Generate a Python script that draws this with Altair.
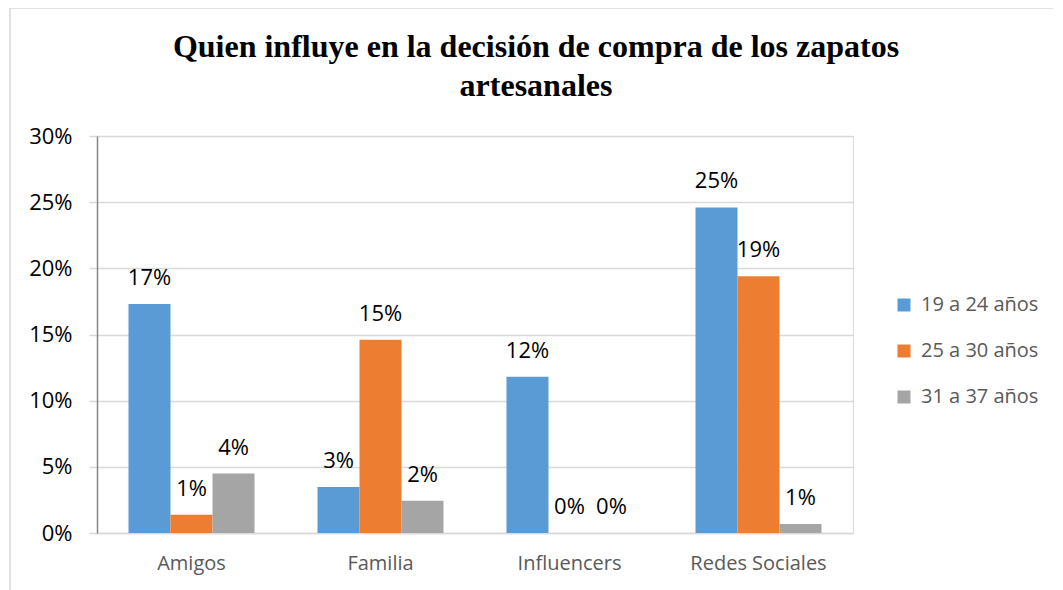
import altair as alt
import pandas as pd

categories = ["Amigos", "Familia", "Influencers", "Redes Sociales"]
series = ["19 a 24 años", "25 a 30 años", "31 a 37 años"]
values_19_24 = [0.173, 0.0348, 0.118, 0.246]
values_25_30 = [0.0138, 0.146, 0.0, 0.194]
values_31_37 = [0.0449, 0.0244, 0.0, 0.0068]
colors = ["#5B9BD5", "#ED7D31", "#A5A5A5"]
y_ticks = [0, 0.05, 0.10, 0.15, 0.20, 0.25, 0.30]

rows = []
for s, vals in zip(series, [values_19_24, values_25_30, values_31_37]):
    for c, v in zip(categories, vals):
        rows.append({"categoria": c, "grupo": s, "valor": v})
df = pd.DataFrame(rows)

x_enc = alt.X("categoria:N", sort=categories, title=None,
              scale=alt.Scale(paddingInner=0.3333, paddingOuter=0.1667),
              axis=alt.Axis(labelAngle=0, labelFont="Open Sans", labelFontSize=20,
                            labelColor="#595959", labelPadding=20, ticks=False,
                            domainColor="#D9D9D9", domainWidth=1.5, grid=False))
xoff = alt.XOffset("grupo:N", sort=series, scale=alt.Scale(paddingInner=0, paddingOuter=0))
y_enc = alt.Y("valor:Q", title=None,
              scale=alt.Scale(domain=[0, 0.3], nice=False),
              axis=alt.Axis(values=y_ticks, format=".0%", labelFont="Open Sans",
                            labelFontSize=22, labelColor="#000000", labelPadding=17,
                            tickSize=8, tickColor="#D9D9D9", tickWidth=1.5,
                            domainColor="#868686", domainWidth=1.5,
                            gridColor="#D9D9D9", gridWidth=1.5))

base = alt.Chart(df)

bars = base.mark_bar().encode(
    x=x_enc, xOffset=xoff, y=y_enc,
    color=alt.Color("grupo:N", sort=series, title=None,
                    scale=alt.Scale(domain=series, range=colors),
                    legend=alt.Legend(orient="none", legendX=797, legendY=159,
                                      symbolType="square", symbolSize=169,
                                      symbolStrokeWidth=0,
                                      labelFont="Open Sans", labelFontSize=20,
                                      labelColor="#595959", labelOffset=7,
                                      rowPadding=26)),
)

labels = base.mark_text(baseline="middle", dy=-26, font="Open Sans", fontSize=22,
                        color="#000000").encode(
    x=alt.X("categoria:N", sort=categories),
    xOffset=alt.XOffset("grupo:N", sort=series),
    y="valor:Q",
    text=alt.Text("valor:Q", format=".0%"),
)

frame = alt.Chart(pd.DataFrame({"k": [0]})).mark_rect(
    fill=None, stroke="#D9D9D9", strokeWidth=1.5
).encode(x=alt.value(-87), x2=alt.value(1000), y=alt.value(-128), y2=alt.value(600))

chart = alt.layer(frame, bars, labels).properties(
    width=756, height=397,
    autosize=alt.AutoSizeParams(type="none"),
    padding={"left": 89, "top": 128, "right": 200, "bottom": 70},
    title=alt.Title(
        text=["Quien influye en la decisión de compra de los zapatos", "artesanales"],
        font="Liberation Serif", fontSize=32, fontWeight="bold", color="#000000",
        anchor="middle", dx=61, offset=-96, lineHeight=39,
    ),
).configure_view(strokeWidth=0).configure(background="#FFFFFF")

chart.save("out.html", embed_options={"renderer": "svg", "actions": False})
